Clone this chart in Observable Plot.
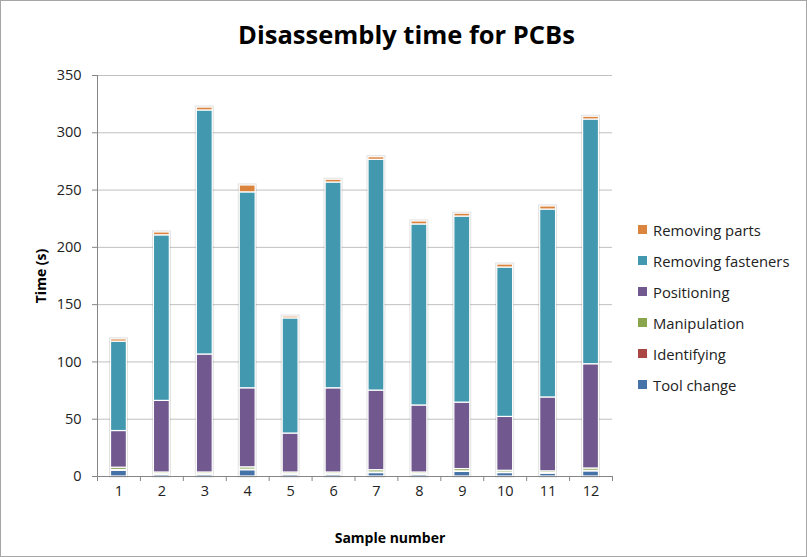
<!DOCTYPE html>
<html><head><meta charset="utf-8">
<script src="https://cdn.jsdelivr.net/npm/d3@7"></script>
<script src="https://cdn.jsdelivr.net/npm/@observablehq/plot@0.6"></script>
<style>
body{margin:0;background:#fff;font-family:"Open Sans",sans-serif}
#wrap{position:relative;width:805px;height:555px;border:1px solid #a6a6a6;overflow:hidden;background:#fff}
#title{position:absolute;left:3px;width:805px;top:16px;text-align:center;font-weight:bold;font-size:25.5px;color:#000;line-height:34px}
#legend{position:absolute;left:637px;top:213px;font-size:14.8px;color:#222}
.item{height:31px;display:flex;align-items:center}
.sw{width:9px;height:9px;margin-right:6px}
#chart{position:absolute;left:0;top:0}
#ylab{position:absolute;left:39px;top:275px;transform:translate(-50%,-50%) rotate(-90deg);font-weight:bold;font-size:14px;white-space:nowrap}
#xlab{position:absolute;left:389px;top:536px;transform:translate(-50%,-50%);font-weight:bold;font-size:14px;white-space:nowrap}
</style></head>
<body>
<div id="wrap">
  <div id="chart"></div>
  <div id="title">Disassembly time for PCBs</div>
  <div id="ylab">Time (s)</div>
  <div id="xlab">Sample number</div>
  <div id="legend"></div>
</div>
<script>
const samples = ["1","2","3","4","5","6","7","8","9","10","11","12"];
const seriesNames = ["Tool change","Identifying","Manipulation","Positioning","Removing fasteners","Removing parts"];
const seriesColors = ["#4572A7","#AA4643","#89A54E","#71588F","#4198AF","#DB843D"];
const toolChange   = [5, 1.5, 1.5, 5.5, 1.5, 1.5, 3, 1.5, 4, 3, 2.5, 4.5];
const identifying  = [0.7, 0.5, 0.5, 0.5, 0.5, 0.5, 0.5, 0.5, 0.5, 0.5, 0.5, 0.5];
const manipulation = [2, 1.5, 1.5, 2, 1.5, 1.5, 2, 1.5, 2, 1.5, 1.5, 2];
const positioning  = [32, 62.5, 103, 69, 34, 73.5, 69.5, 58.5, 58, 47, 64.5, 91];
const removingFasteners = [78, 144.5, 213, 171, 100.5, 179.6, 201.4, 158, 162.4, 130.4, 164, 213.6];
const removingParts = [2, 2.5, 2.5, 6, 1.6, 2.4, 2.3, 2.6, 2.5, 2.6, 2.7, 2.4];
const yTicks = [0, 50, 100, 150, 200, 250, 300, 350];

const seriesValues = [toolChange, identifying, manipulation, positioning, removingFasteners, removingParts];
const data = [];
seriesNames.forEach((s, j) => samples.forEach((x, i) => data.push({sample: x, series: s, value: seriesValues[j][i]})));
const totals = samples.map((x, i) => ({sample: x, total: d3.sum(seriesValues, v => v[i])}));

const W = 805, H = 555, mL = 96, mR = 194, mT = 74, mB = 80;
const step = (W - mL - mR) / samples.length;
const axisColor = "#868686";

const chart = Plot.plot({
  width: W, height: H,
  marginLeft: mL, marginRight: mR, marginTop: mT, marginBottom: mB,
  style: {fontFamily: "Open Sans, sans-serif", fontSize: "14.5px", color: "#222", background: "transparent"},
  x: {domain: samples, paddingInner: 0.63, paddingOuter: 0.315, round: false, label: null, axis: null},
  y: {domain: [0, 350], label: null, axis: null},
  color: {domain: seriesNames, range: seriesColors},
  marks: [
    Plot.gridY(yTicks, {stroke: "#c0c0c0", strokeOpacity: 1}),
    Plot.axisY(yTicks, {tickSize: 5, tickPadding: 11, stroke: axisColor, label: null, fontSize: 14.5}),
    Plot.ruleX([samples[0]], {x: d => d, y1: 0, y2: 350, dx: -step / 2, stroke: axisColor}),
    Plot.axisX({ticks: samples, tickSize: 5, text: null, dx: -step / 2, stroke: axisColor, label: null}),
    Plot.axisX({ticks: [samples[samples.length - 1]], tickSize: 5, text: null, dx: step / 2, stroke: axisColor, label: null}),
    Plot.axisX({ticks: samples, tickSize: 0, tickPadding: 9, label: null, fontSize: 14.5}),
    Plot.barY(totals, {x: "sample", y: "total", fill: "#000", fillOpacity: 0.13, inset: -1.5}),
    Plot.barY(data, {x: "sample", y: "value", fill: "series", stroke: "white", strokeWidth: 1.2, order: seriesNames}),
    Plot.ruleY([0], {stroke: axisColor})
  ]
});
document.getElementById("chart").appendChild(chart);

const legend = document.getElementById("legend");
seriesNames.slice().reverse().forEach((s) => {
  const c = seriesColors[seriesNames.indexOf(s)];
  const it = document.createElement("div");
  it.className = "item";
  it.innerHTML = `<span class="sw" style="background:${c}"></span><span>${s}</span>`;
  legend.appendChild(it);
});
</script>
</body></html>
